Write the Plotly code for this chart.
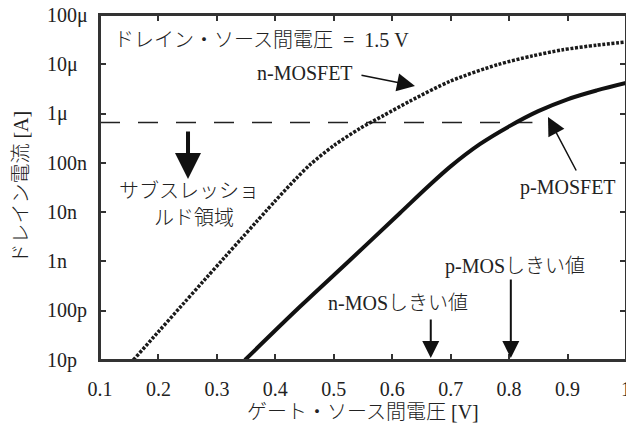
import numpy as np
import plotly.graph_objects as go

# ---- data ----
vgs_n = [0.157, 0.40, 0.437, 0.46, 0.50, 0.545, 0.585, 0.63, 0.70, 0.78, 0.84, 0.89, 0.95, 1.0]
id_n = [1.0e-11, 1.7e-8, 5.0e-8, 9.3e-8, 2.24e-7, 5.0e-7, 9.1e-7, 1.78e-6, 4.57e-6,
        9.8e-6, 1.48e-5, 1.95e-5, 2.45e-5, 2.82e-5]
vgs_p = [0.348, 0.442, 0.528, 0.613, 0.66, 0.70, 0.75, 0.80, 0.85, 0.90, 0.95, 1.0]
id_p = [1.0e-11, 1.2e-10, 1.07e-9, 9.5e-9, 3.2e-8, 8.5e-8, 2.4e-7, 5.5e-7, 1.12e-6,
        1.95e-6, 2.95e-6, 4.17e-6]
ref_x = [0.1, 0.84]
ref_y = [6.6e-7, 6.6e-7]
vth_n = 0.666
vth_p = 0.803

xtick_vals = [0.1, 0.2, 0.3, 0.4, 0.5, 0.6, 0.7, 0.8, 0.9, 1.0]
xtick_text = ["0.1", "0.2", "0.3", "0.4", "0.5", "0.6", "0.7", "0.8", "0.9", "1"]
ytick_vals = [1e-4, 1e-5, 1e-6, 1e-7, 1e-8, 1e-9, 1e-10, 1e-11]
ytick_text = ["100μ", "10μ", "1μ", "100n", "10n", "1n", "100p", "10p"]

SERIF = "Liberation Serif"
JP = "Noto Sans CJK JP"
MIX = "Liberation Serif, Noto Sans CJK JP"
FS = 20
TXT = "#222222"
AX = "#333333"


def f(family):
    return dict(family=family, size=FS, color=TXT, weight=300)


fig = go.Figure()
fig.add_trace(go.Scatter(x=ref_x, y=ref_y, mode="lines",
                         line=dict(color="#222", width=1.5, dash="20px,18px"),
                         hoverinfo="skip", showlegend=False))
fig.add_trace(go.Scatter(x=vgs_n, y=id_n, mode="lines", name="n-MOSFET",
                         line=dict(color="#1a1a1a", width=3.5, dash="3px,1.6px",
                                   shape="spline", smoothing=0.8),
                         showlegend=False))
fig.add_trace(go.Scatter(x=vgs_p, y=id_p, mode="lines", name="p-MOSFET",
                         line=dict(color="#111", width=4, shape="spline", smoothing=1.0),
                         showlegend=False))

ann = []
# y tick labels (left aligned as in the reference)
for v, t in zip(ytick_vals, ytick_text):
    ann.append(dict(x=-0.105, xref="paper", y=np.log10(v), yref="y", text=t,
                    showarrow=False, xanchor="left", yanchor="middle", font=f(SERIF)))
# axis titles
ann.append(dict(x=-0.152, xref="paper", y=0.5, yref="paper", text="ドレイン電流 [A]",
                textangle=-90, showarrow=False, xanchor="center", yanchor="middle",
                font=f(MIX)))
ann.append(dict(x=0.5, xref="paper", y=-0.151, yref="paper", text="ゲート・ソース間電圧 [V]",
                showarrow=False, xanchor="center", yanchor="middle", font=f(MIX)))
# condition text
ann.append(dict(x=0.023, xref="paper", y=0.927, yref="paper",
                text="ドレイン・ソース間電圧\u00a0\u00a0=\u00a0\u00a01.5 V",
                showarrow=False, xanchor="left", yanchor="middle", font=f(MIX)))
# subthreshold region
ann.append(dict(x=0.2523, y=-7.55, text="サブスレッショ", showarrow=False,
                xanchor="center", yanchor="middle", font=f(JP)))
ann.append(dict(x=0.261, y=-8.08, text="ルド領域", showarrow=False,
                xanchor="center", yanchor="middle", font=f(JP)))
ann.append(dict(x=0.2506, y=-7.33, ax=0, ay=-49, text="", showarrow=True,
                arrowhead=2, arrowwidth=4, arrowsize=1.3, arrowcolor="#111", standoff=0))
# n-MOSFET label
ann.append(dict(x=0.4508, y=-5.176, text="n-MOSFET", showarrow=False,
                xanchor="center", yanchor="middle", font=f(SERIF)))
ann.append(dict(x=0.639, y=-5.44, ax=-55, ay=-11, text="", showarrow=True,
                arrowhead=2, arrowwidth=1.5, arrowsize=2.4, arrowcolor="#111", standoff=0))
# p-MOSFET label
ann.append(dict(x=0.9008, y=-7.51, text="p-MOSFET", showarrow=False,
                xanchor="center", yanchor="middle", font=f(SERIF)))
ann.append(dict(x=0.8666, y=-6.07, ax=29, ay=55, text="", showarrow=True,
                arrowhead=2, arrowwidth=1.5, arrowsize=2.4, arrowcolor="#111", standoff=0))
# thresholds
ann.append(dict(x=0.61, y=-9.84, text="n-MOSしきい値", showarrow=False,
                xanchor="center", yanchor="middle", font=f(MIX)))
ann.append(dict(x=vth_n, y=-10.96, ax=0, ay=-40, text="", showarrow=True,
                arrowhead=2, arrowwidth=2, arrowsize=1.7, arrowcolor="#111", standoff=0))
ann.append(dict(x=0.81, y=-9.11, text="p-MOSしきい値", showarrow=False,
                xanchor="center", yanchor="middle", font=f(MIX)))
ann.append(dict(x=vth_p, y=-10.96, ax=0, ay=-80, text="", showarrow=True,
                arrowhead=2, arrowwidth=2, arrowsize=1.7, arrowcolor="#111", standoff=0))

fig.update_layout(
    width=626, height=430,
    margin=dict(l=100, r=0, t=15, b=70, autoexpand=False),
    paper_bgcolor="white", plot_bgcolor="white",
    annotations=ann,
    shapes=[dict(type="rect", xref="paper", yref="paper", x0=0, x1=1, y0=0, y1=1,
                 line=dict(color=AX, width=2), layer="above")],
    xaxis=dict(range=[0.1, 1.0001], tickvals=xtick_vals, ticktext=xtick_text,
               showgrid=False, zeroline=False, showline=True, linecolor=AX, linewidth=2,
               mirror="ticks", ticks="inside", ticklen=6, tickwidth=1.5, tickcolor=AX,
               automargin=False,
               ticklabelstandoff=10, ticklabeloverflow="allow", tickfont=f(SERIF)),
    yaxis=dict(type="log", range=[-11, -4], tickvals=ytick_vals, showticklabels=False,
               automargin=False,
               showgrid=False, zeroline=False, showline=True, linecolor=AX, linewidth=2,
               mirror="ticks", ticks="inside", ticklen=6, tickwidth=1.5, tickcolor=AX),
)

fig.write_html("out.html", config={"displayModeBar": False},
               post_script="document.body.style.margin='0';document.body.style.overflow='hidden';")
